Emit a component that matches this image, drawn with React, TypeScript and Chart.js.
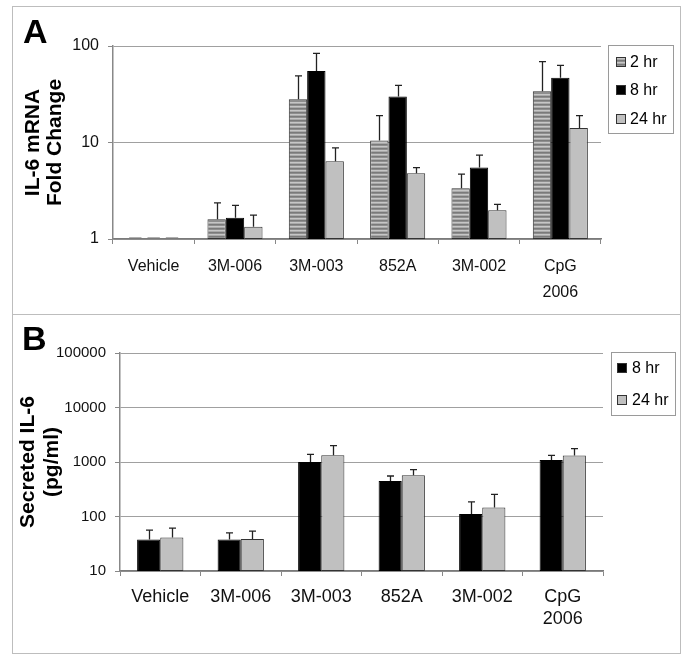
import React, { useEffect, useRef } from 'react';
import { Chart, registerables } from 'chart.js';
Chart.register(...registerables);

// ---------- data ----------
const categories: (string | string[])[] = ['Vehicle', '3M-006', '3M-003', '852A', '3M-002', ['CpG', '2006']];

// Panel A: IL-6 mRNA fold change (bar value, bar value + error)
const a2hr = [1, 1.6, 28, 10.5, 3.35, 34];
const a2hrUpper = [1, 2.37, 49, 19, 4.7, 69];
const a8hr = [1, 1.66, 55, 30, 5.5, 47];
const a8hrUpper = [1, 2.23, 84, 39, 7.4, 63];
const a24hr = [1, 1.34, 6.4, 4.8, 1.98, 14.1];
const a24hrUpper = [1, 1.77, 8.8, 5.5, 2.28, 19];
const aTicks = [1, 10, 100];

// Panel B: secreted IL-6 (pg/ml)
const b8hr = [37.7, 37.7, 1000, 448, 111, 1090];
const b8hrUpper = [56, 50, 1380, 553, 185, 1320];
const b24hr = [41, 38.6, 1330, 570, 146, 1310];
const b24hrUpper = [61, 54, 2000, 725, 255, 1760];
const bTicks = [10, 100, 1000, 10000, 100000];

// ---------- styling ----------
const SANS = "'Liberation Sans', Arial, sans-serif";

function stripePattern(): CanvasPattern | string {
  const c = document.createElement('canvas');
  c.width = 4; c.height = 4;
  const ctx = c.getContext('2d');
  if (!ctx) return '#999';
  ['#7a7a7a', '#8e8e8e', '#c6c6c6', '#a9a9a9'].forEach((col, i) => {
    ctx.fillStyle = col; ctx.fillRect(0, i, 4, 1);
  });
  return ctx.createPattern(c, 'repeat') || '#999';
}

const errorBars = {
  id: 'errorBars',
  afterDatasetsDraw(chart: any) {
    const { ctx } = chart;
    const yScale = chart.scales.y;
    ctx.save();
    ctx.strokeStyle = '#222';
    ctx.lineWidth = 1.3;
    chart.data.datasets.forEach((ds: any, i: number) => {
      const meta = chart.getDatasetMeta(i);
      meta.data.forEach((bar: any, j: number) => {
        const up = ds.upper[j];
        const v = ds.data[j];
        if (up == null || up <= v) return;
        const yTop = yScale.getPixelForValue(up);
        const x = Math.round(bar.x) + 0.5;
        ctx.beginPath();
        ctx.moveTo(x, bar.y);
        ctx.lineTo(x, yTop);
        ctx.moveTo(x - 3.5, yTop);
        ctx.lineTo(x + 3.5, yTop);
        ctx.stroke();
      });
    });
    ctx.restore();
  },
};

// Excel draws zero-height bars as a short outline on the baseline
const baseDashes = {
  id: 'baseDashes',
  afterDatasetsDraw(chart: any) {
    const { ctx } = chart;
    const yScale = chart.scales.y;
    ctx.save();
    ctx.strokeStyle = '#b0b0b0';
    ctx.lineWidth = 1;
    chart.data.datasets.forEach((ds: any, i: number) => {
      const meta = chart.getDatasetMeta(i);
      meta.data.forEach((bar: any, j: number) => {
        if (ds.data[j] > yScale.min) return;
        const y = Math.round(yScale.getPixelForValue(ds.data[j])) - 1.5;
        ctx.beginPath();
        ctx.moveTo(bar.x - bar.width / 2 + 3, y);
        ctx.lineTo(bar.x + bar.width / 2 - 3, y);
        ctx.stroke();
      });
    });
    ctx.restore();
  },
};

const boxLegend = {
  id: 'boxLegend',
  afterDraw(chart: any, _args: any, opts: any) {
    if (!opts || !opts.box) return;
    const { ctx } = chart;
    const [bx, by, bw, bh] = opts.box;
    ctx.save();
    ctx.strokeStyle = '#9a9a9a';
    ctx.lineWidth = 1;
    ctx.strokeRect(bx + 0.5, by + 0.5, bw, bh);
    chart.data.datasets.forEach((ds: any, i: number) => {
      const cy = opts.rows[i];
      ctx.fillStyle = ds.backgroundColor;
      ctx.fillRect(opts.swatchX, cy - 5, 10, 10);
      ctx.strokeStyle = '#333';
      ctx.strokeRect(opts.swatchX + 0.5, cy - 4.5, 9, 9);
      ctx.fillStyle = '#000';
      ctx.font = opts.font;
      ctx.textBaseline = 'middle';
      ctx.textAlign = 'left';
      ctx.fillText(ds.label, opts.textX, cy + 1);
    });
    ctx.restore();
  },
};

const panelLetter = {
  id: 'panelLetter',
  afterDraw(chart: any, _args: any, opts: any) {
    if (!opts || !opts.text) return;
    const { ctx } = chart;
    ctx.save();
    ctx.fillStyle = '#000';
    ctx.font = `bold 34px ${SANS}`;
    ctx.textBaseline = 'alphabetic';
    ctx.textAlign = 'left';
    ctx.fillText(opts.text, opts.x, opts.y);
    ctx.restore();
  },
};

function makeConfig(p: {
  datasets: any[]; ticks: number[]; min: number; max: number;
  axisWidth: number; axisHeight: number; padTop: number; padRight: number;
  title: string[]; titlePad: number; titleLH: number;
  catPct: number; xFont: any; yFont: any; xPad: number;
  legend: any; letter: any;
}): any {
  return {
    type: 'bar',
    data: { labels: categories, datasets: p.datasets },
    plugins: [baseDashes, errorBars, boxLegend, panelLetter],
    options: {
      animation: false,
      responsive: false,
      events: [],
      layout: { padding: { top: p.padTop, right: p.padRight, left: 0, bottom: 0 } },
      datasets: { bar: { categoryPercentage: p.catPct, barPercentage: 1, borderWidth: 1, borderSkipped: false } },
      plugins: {
        legend: { display: false },
        tooltip: { enabled: false },
        boxLegend: p.legend,
        panelLetter: p.letter,
      },
      scales: {
        x: {
          type: 'category',
          grid: { display: true, drawOnChartArea: false, drawTicks: true, tickLength: 5, offset: true, color: '#888', tickColor: '#888' },
          border: { display: true, color: '#7a7a7a', width: 1.5 },
          ticks: { color: '#111', font: p.xFont, padding: p.xPad, maxRotation: 0, autoSkip: false },
          afterFit(scale: any) { scale.height = p.axisHeight; },
        },
        y: {
          type: 'logarithmic',
          min: p.min,
          max: p.max,
          afterBuildTicks(scale: any) { scale.ticks = p.ticks.map((v) => ({ value: v })); },
          grid: { color: '#a0a0a0', tickColor: '#888', tickLength: 5, drawTicks: true },
          border: { display: true, color: '#888', width: 1.5 },
          ticks: { color: '#111', font: p.yFont, padding: 9, callback: (v: any) => String(v) },
          title: { display: true, text: p.title, color: '#000', font: { family: SANS, size: 21, weight: 'bold', lineHeight: p.titleLH }, padding: { top: p.titlePad, bottom: 0 } },
          afterFit(scale: any) { scale.width = p.axisWidth; },
        },
      },
    },
  };
}

export default function App() {
  const refA = useRef<HTMLCanvasElement>(null);
  const refB = useRef<HTMLCanvasElement>(null);

  useEffect(() => {
    document.body.style.margin = '0';
    const stripes = stripePattern();
    const gray = '#c0c0c0';
    const cfgA = makeConfig({
      datasets: [
        { label: '2 hr', data: a2hr, upper: a2hrUpper, backgroundColor: stripes, borderColor: '#333' },
        { label: '8 hr', data: a8hr, upper: a8hrUpper, backgroundColor: '#000', borderColor: '#000' },
        { label: '24 hr', data: a24hr, upper: a24hrUpper, backgroundColor: gray, borderColor: '#333' },
      ],
      ticks: aTicks, min: 1, max: 100,
      axisWidth: 113, axisHeight: 75, padTop: 46, padRight: 84,
      title: ['IL-6 mRNA', 'Fold Change'], titlePad: 22, titleLH: 22 / 21,
      catPct: 0.677,
      xFont: { family: SANS, size: 16, lineHeight: 26 / 16 },
      yFont: { family: SANS, size: 16 },
      xPad: 10,
      legend: { box: [608, 45, 65, 88], rows: [62, 90, 119], swatchX: 616, textX: 630, font: `16px ${SANS}` },
      letter: { text: 'A', x: 23, y: 43 },
    });
    const cfgB = makeConfig({
      datasets: [
        { label: '8 hr', data: b8hr, upper: b8hrUpper, backgroundColor: '#000', borderColor: '#000' },
        { label: '24 hr', data: b24hr, upper: b24hrUpper, backgroundColor: gray, borderColor: '#333' },
      ],
      ticks: bTicks, min: 10, max: 100000,
      axisWidth: 120, axisHeight: 87, padTop: 39, padRight: 82,
      title: ['Secreted IL-6', '(pg/ml)'], titlePad: 16, titleLH: 24 / 21,
      catPct: 0.575,
      xFont: { family: SANS, size: 18, lineHeight: 22 / 18 },
      yFont: { family: SANS, size: 15 },
      xPad: 10,
      legend: { box: [611, 38, 64, 63], rows: [54, 86], swatchX: 617, textX: 632, font: `16px ${SANS}` },
      letter: { text: 'B', x: 22, y: 36 },
    });
    const chartA = new Chart(refA.current as HTMLCanvasElement, cfgA);
    const chartB = new Chart(refB.current as HTMLCanvasElement, cfgB);
    return () => { chartA.destroy(); chartB.destroy(); };
  }, []);

  return (
    <div style={{ position: 'relative', width: 685, height: 658, background: '#fff', overflow: 'hidden' }}>
      <canvas ref={refA} width={685} height={314} style={{ position: 'absolute', left: 0, top: 0, width: 685, height: 314 }} />
      <canvas ref={refB} width={685} height={344} style={{ position: 'absolute', left: 0, top: 314, width: 685, height: 344 }} />
      <div style={{ position: 'absolute', left: 12, top: 6, width: 667, height: 307, border: '1px solid #bdbdbd', pointerEvents: 'none' }} />
      <div style={{ position: 'absolute', left: 12, top: 314, width: 667, height: 338, border: '1px solid #bdbdbd', pointerEvents: 'none' }} />
    </div>
  );
}
